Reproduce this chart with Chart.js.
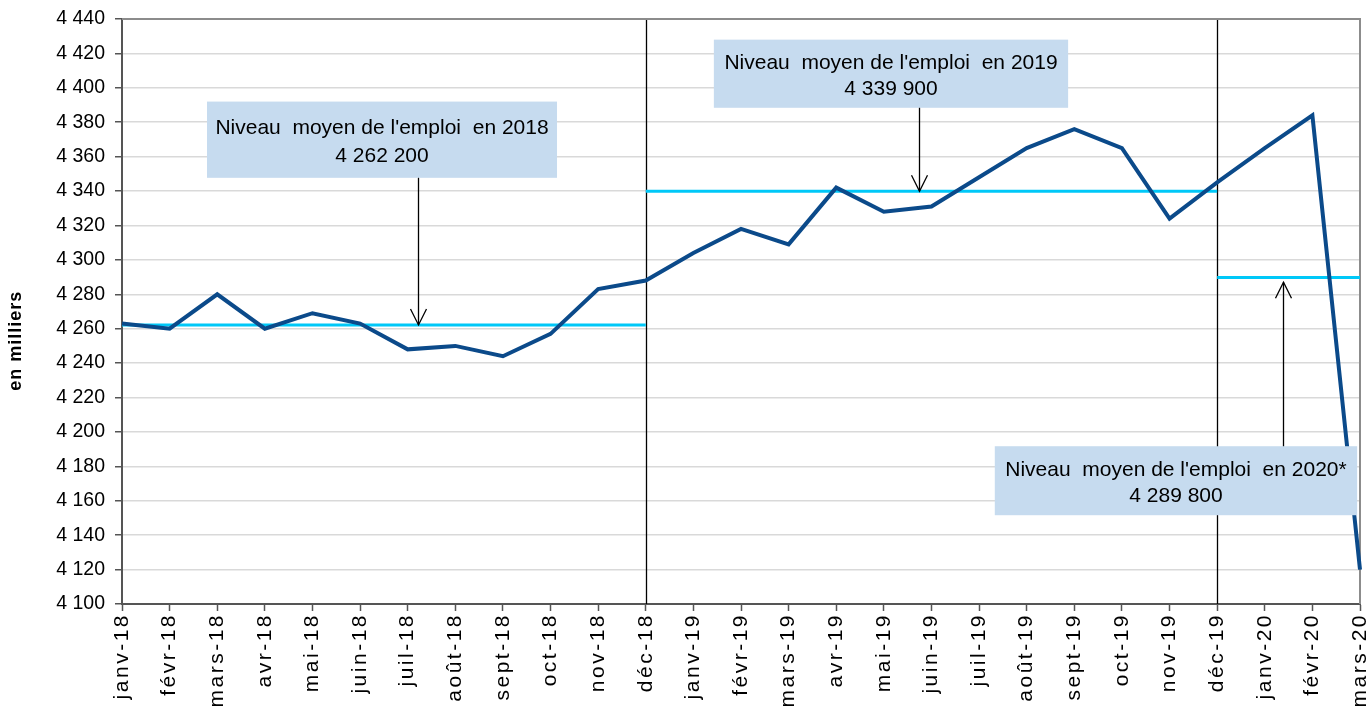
<!DOCTYPE html>
<html>
<head>
<meta charset="utf-8">
<script src="https://cdn.jsdelivr.net/npm/chart.js@4.4.1/dist/chart.umd.min.js"></script>
<style>
  html, body { margin: 0; padding: 0; background: #fff; }
  #wrap { width: 1370px; height: 710px; position: relative; }
</style>
</head>
<body>
<div id="wrap"><canvas id="c"></canvas></div>
<script>
// ---- donnees ----
var mois = ['janv-18', 'févr-18', 'mars-18', 'avr-18', 'mai-18', 'juin-18', 'juil-18', 'août-18', 'sept-18', 'oct-18', 'nov-18', 'déc-18',
  'janv-19', 'févr-19', 'mars-19', 'avr-19', 'mai-19', 'juin-19', 'juil-19', 'août-19', 'sept-19', 'oct-19', 'nov-19', 'déc-19',
  'janv-20', 'févr-20', 'mars-20'];
var emploi = [4263, 4260, 4280, 4260, 4269, 4263, 4248, 4250, 4244, 4257, 4283, 4288,
  4304, 4318, 4309, 4342, 4328, 4331, 4348, 4365, 4376, 4365, 4324, 4345,
  4365, 4384, 4120];
var moyenne2018 = 4262.2;
var moyenne2019 = 4339.9;
var moyenne2020 = 4289.8;
var yMin = 4100, yMax = 4440, yStep = 20;

// segments de moyenne : index de debut / fin sur l'axe des mois
function segment(val, from, to) {
  return mois.map(function(m, i) { return (i >= from && i <= to) ? val : null; });
}

var COLORS = { line: '#0B4A8A', avg: '#00C8F8', box: '#C6DBEF', text: '#000', grid: '#D9D9D9', axis: '#555' };
var FONT = "'Liberation Sans', Arial, sans-serif";

// annotations (positions en unites de donnees : index mois / valeur)
var notes = [
  { l1: "Niveau  moyen de l'emploi  en 2018", l2: '4 262 200', x0: 1.785, x1: 9.136, yTop: 4392, yBot: 4347.7, ax: 6.22, aFrom: 4347.7, aTo: moyenne2018 },
  { l1: "Niveau  moyen de l'emploi  en 2019", l2: '4 339 900', x0: 12.43, x1: 19.87, yTop: 4428, yBot: 4388.4, ax: 16.74, aFrom: 4388.4, aTo: moyenne2019 },
  { l1: "Niveau  moyen de l'emploi  en 2020*", l2: '4 289 800', x0: 18.33, x1: 25.94, yTop: 4191.7, yBot: 4151.6, ax: 24.38, aFrom: 4191.7, aTo: 4287 }
];
var separateurs = [11, 23];

var fmt = function(v) { return String(v).replace(/\B(?=(\d{3})+(?!\d))/g, ' '); };

var overlay = {
  id: 'overlay',
  beforeDraw: function(chart) {
    // etiquettes du mois un peu espacees, comme dans l'original
    var xs = chart.scales.x;
    if (!xs._spaced) {
      var orig = xs.drawLabels;
      xs.drawLabels = function(area) {
        var ctx = this.ctx;
        ctx.save(); ctx.letterSpacing = '2.5px';
        orig.call(this, area);
        ctx.restore();
      };
      xs._spaced = true;
    }
  },
  beforeDatasetsDraw: function(chart) {
    var ctx = chart.ctx, a = chart.chartArea, xs = chart.scales.x;
    ctx.save();
    ctx.strokeStyle = '#000'; ctx.lineWidth = 1.3;
    separateurs.forEach(function(i) {
      var x = Math.round(xs.getPixelForValue(i)) + 0.5;
      ctx.beginPath(); ctx.moveTo(x, a.top); ctx.lineTo(x, a.bottom); ctx.stroke();
    });
    // cadre haut / droite
    ctx.strokeStyle = '#8C8C8C'; ctx.lineWidth = 2;
    ctx.beginPath(); ctx.moveTo(a.left, a.top); ctx.lineTo(a.right, a.top); ctx.lineTo(a.right, a.bottom); ctx.stroke();
    ctx.restore();
  },
  afterDatasetsDraw: function(chart) {
    var ctx = chart.ctx, xs = chart.scales.x, ys = chart.scales.y;
    ctx.save();
    notes.forEach(function(n) {
      var x0 = xs.getPixelForValue(n.x0), x1 = xs.getPixelForValue(n.x1);
      var t = ys.getPixelForValue(n.yTop), b = ys.getPixelForValue(n.yBot);
      ctx.fillStyle = COLORS.box;
      ctx.fillRect(x0, t, x1 - x0, b - t);
      ctx.fillStyle = COLORS.text;
      ctx.font = '21px ' + FONT;
      ctx.textAlign = 'center'; ctx.textBaseline = 'middle';
      var cx = (x0 + x1) / 2, h = b - t;
      ctx.fillText(n.l1, cx, t + h * 0.35);
      ctx.fillText(n.l2, cx, t + h * 0.72);
      // fleche
      var ax = Math.round(xs.getPixelForValue(n.ax)) + 0.5;
      var y0 = ys.getPixelForValue(n.aFrom), y1 = ys.getPixelForValue(n.aTo);
      var dir = y1 > y0 ? 1 : -1;
      ctx.strokeStyle = '#000'; ctx.lineWidth = 1.3;
      ctx.beginPath(); ctx.moveTo(ax, y0); ctx.lineTo(ax, y1); ctx.stroke();
      ctx.beginPath();
      ctx.moveTo(ax - 8, y1 - dir * 16); ctx.lineTo(ax, y1); ctx.lineTo(ax + 8, y1 - dir * 16);
      ctx.stroke();
    });
    ctx.restore();
  },
  afterDraw: function(chart) {
    // titre de l'axe vertical
    var ctx = chart.ctx, a = chart.chartArea;
    ctx.save();
    ctx.translate(16, a.top + (a.bottom - a.top) * 0.55);
    ctx.rotate(-Math.PI / 2);
    ctx.font = 'bold 18px ' + FONT;
    ctx.letterSpacing = '1px';
    ctx.fillStyle = COLORS.text; ctx.textAlign = 'center'; ctx.textBaseline = 'middle';
    ctx.fillText('en milliers', 0, 0);
    ctx.restore();
  }
};

new Chart(document.getElementById('c').getContext('2d'), {
  type: 'line',
  data: {
    labels: mois,
    datasets: [
      { label: 'Moyenne 2018', data: segment(moyenne2018, 0, 11), borderColor: COLORS.avg, borderWidth: 3, pointRadius: 0, spanGaps: false, order: 2 },
      { label: 'Moyenne 2019', data: segment(moyenne2019, 11, 23), borderColor: COLORS.avg, borderWidth: 3, pointRadius: 0, spanGaps: false, order: 2 },
      { label: 'Moyenne 2020', data: segment(moyenne2020, 23, 26), borderColor: COLORS.avg, borderWidth: 3, pointRadius: 0, spanGaps: false, order: 2 },
      { label: 'Emploi', data: emploi, borderColor: COLORS.line, borderWidth: 4, pointRadius: 0, tension: 0, borderJoinStyle: 'miter', order: 1 }
    ]
  },
  options: {
    responsive: true, maintainAspectRatio: false, animation: false,
    layout: { padding: { top: 19, right: 10, left: 0, bottom: 0 } },
    plugins: { legend: { display: false }, tooltip: { enabled: false } },
    scales: {
      x: {
        offset: false,
        grid: { display: true, drawOnChartArea: false, drawTicks: true, tickLength: 7, tickColor: COLORS.axis, tickWidth: 1.5 },
        border: { display: true, color: COLORS.axis, width: 2 },
        ticks: { autoSkip: false, minRotation: 90, maxRotation: 90, padding: 2, color: COLORS.text, font: { family: FONT, size: 21 } },
        afterFit: function(s) { s.height = 106; s.paddingLeft = 0; s.paddingRight = 0; }
      },
      y: {
        min: yMin, max: yMax,
        grid: { color: COLORS.grid, lineWidth: 1.5, tickLength: 7, tickColor: COLORS.axis, tickWidth: 1.5 },
        border: { display: true, color: COLORS.axis, width: 2 },
        ticks: { stepSize: yStep, padding: 10, color: COLORS.text, font: { family: FONT, size: 19.5 }, callback: function(v) { return fmt(v); } },
        afterFit: function(s) { s.width = 122; s.paddingTop = 0; s.paddingBottom = 0; }
      }
    }
  },
  plugins: [overlay]
});
</script>
</body>
</html>
